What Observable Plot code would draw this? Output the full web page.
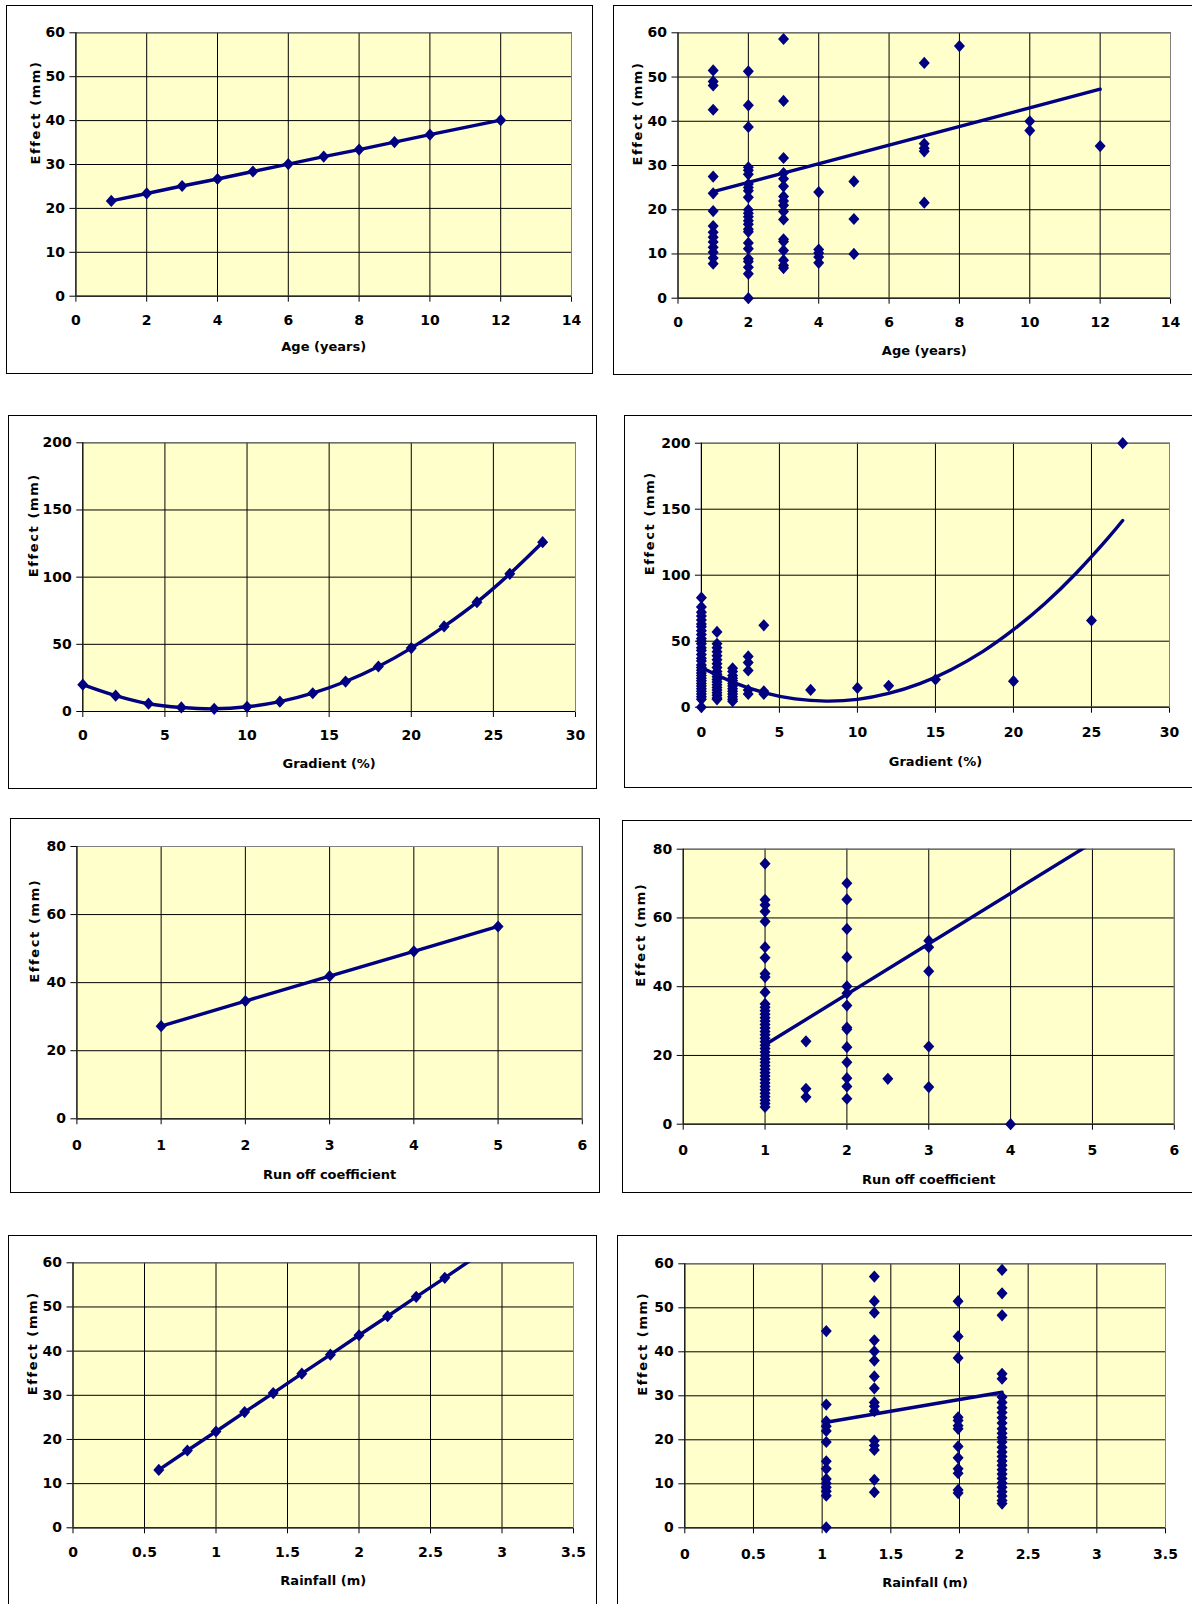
<!DOCTYPE html>
<html>
<head>
<meta charset="utf-8">
<script src="https://cdn.jsdelivr.net/npm/d3@7"></script>
<script src="https://cdn.jsdelivr.net/npm/@observablehq/plot@0.6"></script>
<style>
html, body { margin: 0; padding: 0; background: #fff; overflow: hidden; }
#page { position: relative; width: 1192px; height: 1604px; overflow: hidden; background: #fff; }
#page svg { position: absolute; }
#page svg text { font-family: 'DejaVu Sans', Verdana, sans-serif; font-weight: bold; }
.box { position: absolute; border: 1px solid #000; box-sizing: border-box; pointer-events: none; }
</style>
</head>
<body>
<div id="page"></div>
<script>
// ---------------- DATA ----------------
// Axis ticks
const ageTicks = [0, 2, 4, 6, 8, 10, 12, 14];
const effect60Ticks = [0, 10, 20, 30, 40, 50, 60];
const gradientTicks = [0, 5, 10, 15, 20, 25, 30];
const effect200Ticks = [0, 50, 100, 150, 200];
const runoffTicks = [0, 1, 2, 3, 4, 5, 6];
const effect80Ticks = [0, 20, 40, 60, 80];
const rainTicks = [0, 0.5, 1, 1.5, 2, 2.5, 3, 3.5];

// Labels
const yLabelText = "Effect (mm)";
const ageLabel = "Age (years)";
const gradientLabel = "Gradient (%)";
const runoffLabel = "Run off coefficient";
const rainLabel = "Rainfall (m)";

// Panel 1: fitted effect vs age
const ageFitX = [1, 2, 3, 4, 5, 6, 7, 8, 9, 10, 12];
const ageFitY = [21.7, 23.4, 25.1, 26.7, 28.4, 30.1, 31.8, 33.4, 35.1, 36.8, 40.1];

// Panel 2: observed effect vs age (x, values at that x)
const ageScatter = [
  [1, [51.5, 49.0, 48.1, 42.6, 27.5, 23.7, 19.7, 16.3, 14.9, 13.8, 12.7, 11.5, 10.4, 9.1, 7.8]],
  [2, [51.3, 43.6, 38.7, 29.6, 28.9, 28.0, 25.8, 25.0, 24.3, 22.8, 20.0, 19.2, 18.4, 17.5, 16.7, 15.6, 15.0, 12.5, 11.2, 8.9, 8.3, 7.0, 5.5, 0]],
  [3, [58.6, 44.6, 31.7, 28.3, 27.0, 25.3, 23.0, 22.0, 21.0, 19.6, 17.8, 13.3, 12.8, 10.8, 8.6, 7.4, 6.8]],
  [4, [24.0, 11.0, 10.2, 9.3, 8.0]],
  [5, [26.4, 17.9, 10.0]],
  [7, [53.2, 34.9, 33.9, 33.2, 21.6]],
  [8, [57.0]],
  [10, [40.0, 37.9]],
  [12, [34.4]]
];
const ageTrendX = [1, 12];
const ageTrendY = [24.1, 47.25];

// Panel 3: fitted effect vs gradient
const gradFitX = [0, 2, 4, 6, 8, 10, 12, 14, 16, 18, 20, 22, 24, 26, 28];
const gradFitY = [20.0, 11.8, 5.8, 3.0, 2.0, 3.5, 7.3, 13.6, 22.3, 33.5, 47.2, 63.3, 81.4, 102.5, 126.0];

// Panel 4: observed effect vs gradient
const gradScatter = [
  [0, [83, 76, 72, 69, 66, 63, 61, 58, 55, 52, 50, 48, 45, 43, 40, 37, 35, 32, 30, 28, 26, 24, 22, 20, 18, 16, 14, 12, 10, 8, 6, 0]],
  [1, [57, 48, 45, 42, 39, 36, 33, 30, 27, 25, 23, 21, 19, 17, 15, 13, 11, 9, 7, 6]],
  [2, [29.5, 27, 24, 22, 20, 18, 16, 14, 12, 10, 8, 6, 4.5]],
  [3, [38.5, 33.8, 27.8, 13, 10]],
  [4, [62, 12, 10]],
  [7, [13.1]],
  [10, [14.6]],
  [12, [16.2]],
  [15, [21]],
  [20, [19.7]],
  [25, [65.7]],
  [27, [200]]
];
const gradCurveX = [0, 2, 4, 6, 8, 10, 12, 14, 16, 18, 20, 22, 24, 26, 27];
const gradCurveY = [30, 19.0, 11.1, 6.3, 4.6, 5.9, 10.4, 17.8, 28.4, 41.9, 58.7, 78.4, 101.3, 127.3, 141.4];

// Panel 5: fitted effect vs run-off coefficient
const runoffFitX = [1, 2, 3, 4, 5];
const runoffFitY = [27.2, 34.6, 41.9, 49.2, 56.5];

// Panel 6: observed effect vs run-off coefficient
const runoffScatter = [
  [1, [75.8, 65.3, 63.8, 61.9, 59.0, 51.5, 48.4, 43.8, 42.8, 38.4, 35, 34, 33, 32, 31, 30, 29, 28, 27, 26, 25, 24, 23, 22, 21, 20, 19, 18, 17, 16, 15, 14, 13, 12, 11, 10, 9, 8, 7, 6, 5]],
  [1.5, [24.1, 10.3, 7.9]],
  [2, [70.1, 65.4, 56.8, 48.6, 40.1, 38.1, 34.5, 28.1, 27.6, 22.4, 18.0, 13.4, 11.0, 7.4]],
  [2.5, [13.2]],
  [3, [53.4, 51.5, 44.5, 22.6, 10.8]],
  [4, [0]]
];
const runoffTrendX = [1, 5];
const runoffTrendY = [23.1, 81.9];

// Panel 7: fitted effect vs rainfall
const rainFitX = [0.6, 0.8, 1.0, 1.2, 1.4, 1.6, 1.8, 2.0, 2.2, 2.4, 2.6, 2.8];
const rainFitY = [13.1, 17.5, 21.8, 26.2, 30.5, 34.9, 39.2, 43.6, 47.9, 52.3, 56.6, 61.0];

// Panel 8: observed effect vs rainfall
const rainScatter = [
  [1.03, [44.7, 28.0, 24.2, 23.1, 22.0, 19.5, 15.1, 13.4, 11.1, 10.1, 9.2, 8.3, 7.3, 0.1]],
  [1.38, [57.1, 51.5, 48.9, 42.6, 40.1, 38.0, 34.4, 31.7, 28.5, 27.6, 26.5, 19.8, 18.7, 17.7, 10.9, 8.1]],
  [1.99, [51.5, 43.5, 38.6, 25.1, 24.4, 23.2, 22.5, 18.5, 15.9, 13.4, 12.4, 8.6, 7.9]],
  [2.31, [58.6, 53.3, 48.3, 35.0, 33.9, 29.7, 28.5, 27.3, 26.2, 25.0, 23.8, 22.5, 21.5, 20.5, 19.5, 18.3, 17.2, 16.2, 15.2, 14.2, 13.2, 12.2, 11.2, 10.2, 9.2, 8.2, 7.2, 6.2, 5.5]]
];
const rainTrendX = [1.03, 2.31];
const rainTrendY = [24.0, 30.8];

// ---------------- HELPERS ----------------
const NAVY = "#000080";
const TITLES = new Set([yLabelText, ageLabel, gradientLabel, runoffLabel, rainLabel]);
const zip = (xs, ys) => xs.map((x, i) => ({x, y: ys[i]}));
const flat = (groups) => groups.flatMap(([x, ys]) => ys.map(y => ({x, y})));
const diamond = {
  draw(ctx) {
    const w = 5.5, h = 6.1;
    ctx.moveTo(0, -h); ctx.lineTo(w, 0); ctx.lineTo(0, h); ctx.lineTo(-w, 0); ctx.closePath();
  }
};

const page = document.getElementById("page");

function panel(cfg) {
  const {box, area, xTicks, yTicks, xLabel, xPad, xTitleDy, yTitleDx, marks} = cfg;
  const ml = area.l - box.x, mt = area.t - box.y;
  const mr = box.x + box.w - area.r, mb = box.y + box.h - area.b;
  const xd = [xTicks[0], xTicks[xTicks.length - 1]];
  const yd = [yTicks[0], yTicks[yTicks.length - 1]];
  const svg = Plot.plot({
    width: box.w,
    height: box.h,
    marginLeft: ml, marginRight: mr, marginTop: mt, marginBottom: mb,
    x: {domain: xd, ticks: xTicks, tickSize: 6, tickPadding: xPad, tickFormat: d => String(d), label: null},
    y: {domain: yd, ticks: yTicks, tickSize: 6, tickPadding: 5, tickFormat: d => String(d), label: null},
    marks: [
      Plot.frame({fill: "#FFFFCC", stroke: "none"}),
      Plot.ruleX(xTicks.slice(1), {stroke: "#000", strokeWidth: 1}),
      Plot.ruleY(yTicks.slice(1), {stroke: "#000", strokeWidth: 1}),
      Plot.frame({stroke: "#808080", fill: "none"}),
      Plot.ruleX([xd[0]], {stroke: "#000", strokeWidth: 1.2}),
      Plot.ruleY([yd[0]], {stroke: "#000", strokeWidth: 1.2}),
      ...marks,
      Plot.text([xLabel], {text: d => d, frameAnchor: "bottom", dy: xTitleDy, lineAnchor: "bottom", fill: "#000", fontSize: 13, fontWeight: "bold"}),
      Plot.text([yLabelText], {text: d => d, frameAnchor: "left", dx: yTitleDx, rotate: -90, fill: "#000", fontSize: 13, fontWeight: "bold"})
    ]
  });
  svg.style.left = box.x + "px";
  svg.style.top = box.y + "px";
  svg.style.fontFamily = "'DejaVu Sans', Verdana, sans-serif";
  svg.style.fontWeight = "bold";
  svg.style.color = "#000";
  svg.style.maxWidth = "none";
  svg.querySelectorAll("text").forEach(t => {
    const isTitle = TITLES.has(t.textContent);
    t.style.fontSize = isTitle ? "13px" : "14px";
    t.style.fontWeight = "bold";
    t.style.fontFamily = "'DejaVu Sans', Verdana, sans-serif";
    if (t.textContent === yLabelText) t.style.letterSpacing = "1.6px";
  });
  page.appendChild(svg);
  const b = document.createElement("div");
  b.className = "box";
  b.style.left = box.x + "px"; b.style.top = box.y + "px";
  b.style.width = box.w + "px"; b.style.height = box.h + "px";
  page.appendChild(b);
}

const lineOpts = {x: "x", y: "y", stroke: NAVY, strokeWidth: 3.4};
const dotOpts = {x: "x", y: "y", symbol: diamond, fill: NAVY, stroke: "none"};

// Panel 1
panel({
  box: {x: 6, y: 5, w: 587, h: 369},
  area: {l: 75.4, r: 571, t: 32.3, b: 295.7},
  xTicks: ageTicks, yTicks: effect60Ticks, xLabel: ageLabel,
  xPad: 12.6, xTitleDy: 55, yTitleDx: -40,
  marks: [
    Plot.line(zip(ageFitX, ageFitY), lineOpts),
    Plot.dot(zip(ageFitX, ageFitY), dotOpts)
  ]
});

// Panel 2
panel({
  box: {x: 613, y: 5, w: 600, h: 370},
  area: {l: 677.5, r: 1170, t: 32.3, b: 297.7},
  xTicks: ageTicks, yTicks: effect60Ticks, xLabel: ageLabel,
  xPad: 13, xTitleDy: 56.3, yTitleDx: -40.5,
  marks: [
    Plot.dot(flat(ageScatter), dotOpts),
    Plot.line(zip(ageTrendX, ageTrendY), lineOpts)
  ]
});

// Panel 3
panel({
  box: {x: 8, y: 415, w: 589, h: 374},
  area: {l: 82.3, r: 575, t: 442.3, b: 711},
  xTicks: gradientTicks, yTicks: effect200Ticks, xLabel: gradientLabel,
  xPad: 13, xTitleDy: 56.3, yTitleDx: -48.6,
  marks: [
    Plot.line(zip(gradFitX, gradFitY), {...lineOpts, curve: "catmull-rom"}),
    Plot.dot(zip(gradFitX, gradFitY), dotOpts)
  ]
});

// Panel 4
panel({
  box: {x: 624, y: 415, w: 600, h: 373},
  area: {l: 700.9, r: 1169, t: 442.7, b: 706.7},
  xTicks: gradientTicks, yTicks: effect200Ticks, xLabel: gradientLabel,
  xPad: 14, xTitleDy: 58.6, yTitleDx: -51.6,
  marks: [
    Plot.dot(flat(gradScatter), dotOpts),
    Plot.line(zip(gradCurveX, gradCurveY), {...lineOpts, curve: "natural"})
  ]
});

// Panel 5
panel({
  box: {x: 10, y: 818, w: 590, h: 375},
  area: {l: 76.4, r: 581.8, t: 846, b: 1118.3},
  xTicks: runoffTicks, yTicks: effect80Ticks, xLabel: runoffLabel,
  xPad: 15.7, xTitleDy: 60, yTitleDx: -41.7,
  marks: [
    Plot.line(zip(runoffFitX, runoffFitY), lineOpts),
    Plot.dot(zip(runoffFitX, runoffFitY), dotOpts)
  ]
});

// Panel 6
panel({
  box: {x: 622, y: 820, w: 600, h: 373},
  area: {l: 682.7, r: 1173.8, t: 848.7, b: 1123.7},
  xTicks: runoffTicks, yTicks: effect80Ticks, xLabel: runoffLabel,
  xPad: 15.3, xTitleDy: 59.6, yTitleDx: -42,
  marks: [
    Plot.dot(flat(runoffScatter), dotOpts),
    Plot.line(zip(runoffTrendX, runoffTrendY), {...lineOpts, clip: true})
  ]
});

// Panel 7
panel({
  box: {x: 8, y: 1235, w: 589, h: 400},
  area: {l: 72.5, r: 573, t: 1262.3, b: 1527.3},
  xTicks: rainTicks, yTicks: effect60Ticks, xLabel: rainLabel,
  xPad: 13.4, xTitleDy: 56.7, yTitleDx: -39.7,
  marks: [
    Plot.line(zip(rainFitX, rainFitY), {...lineOpts, clip: true}),
    Plot.dot(zip(rainFitX, rainFitY).filter(d => d.y <= 60), dotOpts)
  ]
});

// Panel 8
panel({
  box: {x: 617, y: 1235, w: 600, h: 400},
  area: {l: 684.3, r: 1165, t: 1263.3, b: 1527.3},
  xTicks: rainTicks, yTicks: effect60Ticks, xLabel: rainLabel,
  xPad: 15, xTitleDy: 59.4, yTitleDx: -42.4,
  marks: [
    Plot.dot(flat(rainScatter), dotOpts),
    Plot.line(zip(rainTrendX, rainTrendY), lineOpts)
  ]
});
</script>
</body>
</html>
